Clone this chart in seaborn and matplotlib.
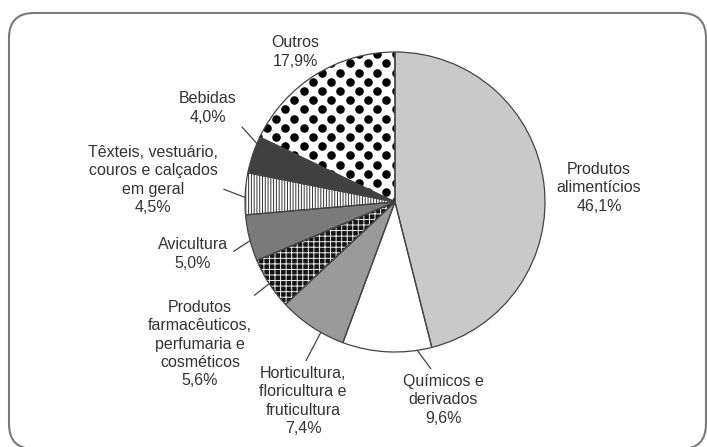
import matplotlib
matplotlib.use("Agg")
import matplotlib.pyplot as plt
from matplotlib.patches import FancyBboxPatch
import seaborn as sns
import numpy as np

# dados do gráfico
setores = ["Produtos\nalimentícios", "Químicos e\nderivados",
           "Horticultura,\nfloricultura e\nfruticultura",
           "Produtos\nfarmacêuticos,\nperfumaria e\ncosméticos", "Avicultura",
           "Têxteis, vestuário,\ncouros e calçados\nem geral", "Bebidas", "Outros"]
percentuais = [46.1, 9.6, 7.4, 5.6, 5.0, 4.5, 4.0, 17.9]

# estilo das fatias
cores = ["#c9c9c9", "#ffffff", "#9a9a9a", "#151515", "#7a7a7a", "#ffffff", "#404040", "#ffffff"]
hachuras = [None, None, None, "+++", None, "||||||", None, None]
cor_hachura = [None, None, None, "#f0f0f0", None, "#333333", None, None]

# rótulos: centro do texto (pixels), ponto de saída da linha e ajuste do ângulo
pos_rotulo = [(599, 188), (443, 400), (303, 401), (200, 344), (193, 254), (153, 180), (208, 108), (295, 52)]
relpos = [None, (0.4, 1.0), (0.5, 1.0), (0.91, 0.95), (1.0, 0.47), (0.93, 0.45), (1.0, 0.1), None]
desvio_ang = [0, 11.6, 4, 0, 1, 1.4, -4.5, 0]

sns.set_theme(style="white")
plt.rcParams['font.family'] = ['Liberation Sans', 'DejaVu Sans']
plt.rcParams['hatch.linewidth'] = 0.7

W, H = 707, 447
CX, CY, R = 395, 202, 150
FS, LS = 11.5, 1.26


def px(x, y):
    return ((x - CX) / R, (CY - y) / R)


fig = plt.figure(figsize=(W / 100, H / 100), dpi=100)
ax = fig.add_axes([0, 0, 1, 1])

# fatias preenchidas
wedges, _ = ax.pie(percentuais, colors=cores, startangle=90, counterclock=False,
                   radius=1, wedgeprops=dict(linewidth=0))
for w, h, hc in zip(wedges, hachuras, cor_hachura):
    if h:
        w.set_hatch(h)
        w.set_edgecolor(hc)

# bolinhas da fatia "Outros"
passo = 9.2 / R
g = np.arange(-1.1, 1.1, passo)
gx, gy = np.meshgrid(g, g)
ii, jj = np.meshgrid(np.arange(len(g)), np.arange(len(g)))
m = (ii + jj) % 2 == 0
pts = ax.scatter(gx[m], gy[m], s=38, color="black", linewidths=0, zorder=3)
pts.set_clip_path(wedges[7])

# contornos
ax.pie(percentuais, startangle=90, counterclock=False, radius=1,
       wedgeprops=dict(fill=False, edgecolor="#444444", linewidth=0.9, zorder=4))

# rótulos
for w, nome, pct, (tx, ty), rp, da in zip(wedges, setores, percentuais, pos_rotulo, relpos, desvio_ang):
    texto = nome + "\n" + f"{pct:.1f}%".replace(".", ",")
    if rp is None:
        ax.text(*px(tx, ty), texto, ha="center", va="center", fontsize=FS,
                color="#333333", linespacing=LS)
    else:
        ang = np.deg2rad((w.theta1 + w.theta2) / 2 + da)
        ax.annotate(texto, xy=(np.cos(ang), np.sin(ang)), xytext=px(tx, ty),
                    ha="center", va="center", fontsize=FS, color="#333333", linespacing=LS,
                    arrowprops=dict(arrowstyle="-", color="#444444", lw=0.9, relpos=rp,
                                    shrinkA=2, shrinkB=0))

# moldura arredondada
x0, y0 = px(9, 449)
x1, y1 = px(706, 13)
ax.add_patch(FancyBboxPatch((x0, y0), x1 - x0, y1 - y0,
                            boxstyle=f"round,pad=0,rounding_size={25 / R}",
                            fill=False, edgecolor="#7a7a7a", linewidth=1.5, clip_on=False))

ax.set_xlim(-CX / R, (W - CX) / R)
ax.set_ylim(-(H - CY) / R, CY / R)
ax.set_aspect("equal")
ax.axis("off")

fig.savefig("out.png", dpi=100)
